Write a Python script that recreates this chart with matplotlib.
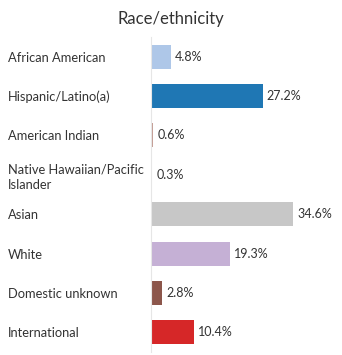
import matplotlib
matplotlib.use("Agg")
import matplotlib.pyplot as plt

categories = ["African American", "Hispanic/Latino(a)", "American Indian",
              "Native Hawaiian/Pacific\nIslander", "Asian", "White",
              "Domestic unknown", "International"]
values = [4.8, 27.2, 0.6, 0.3, 34.6, 19.3, 2.8, 10.4]
labels = ["4.8%", "27.2%", "0.6%", "0.3%", "34.6%", "19.3%", "2.8%", "10.4%"]
colors = ["#aec7e8", "#1f77b4", "#c49c94", "#f7b6d2", "#c7c7c7", "#c5b0d5",
          "#8c564b", "#d62728"]

plt.rcParams['font.family'] = ['Lato', 'DejaVu Sans']

W, H = 342, 355
fig = plt.figure(figsize=(W/100, H/100), dpi=100)
ax = fig.add_axes([151/W, 1-352/H, (W-151)/W, (352-37)/H])

y = list(range(len(categories)))
ax.barh(y, values, height=0.61, color=colors)
ax.set_ylim(len(categories)-0.5, -0.5)
ax.set_xlim(0, 34.6*(W-151)/142)

for yi, v, lab in zip(y, values, labels):
    ax.annotate(lab, (v, yi), xytext=(3, 0), textcoords="offset points",
                va="center", ha="left", fontsize=9, color="#333333")

for s in ["top", "right", "bottom"]:
    ax.spines[s].set_visible(False)
ax.spines["left"].set_color("#e6e6e6")
ax.spines["left"].set_linewidth(0.8)
ax.set_xticks([])
ax.set_yticks(y)
ax.set_yticklabels(categories, fontsize=9.3, color="#333333", ha="left",
                   linespacing=1.3)
ax.tick_params(axis="y", length=0, pad=(151-8)*0.72)

fig.text(171/W, 1-19/H, "Race/ethnicity", ha="center", va="center",
         fontsize=12, color="#333333")

fig.savefig("out.png", dpi=100)
